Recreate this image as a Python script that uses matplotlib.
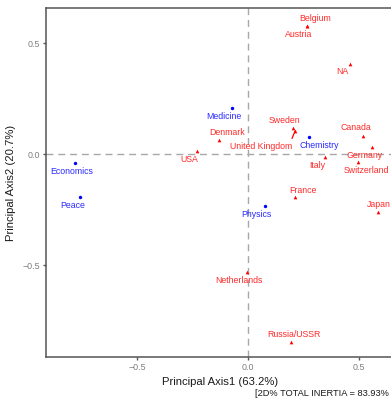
import numpy as np
import matplotlib
matplotlib.use("Agg")
import matplotlib.pyplot as plt

plt.rcParams['font.family'] = ['Liberation Sans', 'DejaVu Sans']

# column points (fields)
fields = ['Economics', 'Peace', 'Medicine', 'Chemistry', 'Physics']
field_x = [-0.78, -0.757, -0.072, 0.273, 0.075]
field_y = [-0.042, -0.192, 0.207, 0.078, -0.233]

# row points (countries)
countries = ['USA', 'Denmark', 'Belgium', 'Austria', 'NA', 'Sweden', 'United Kingdom',
             'Canada', 'Germany', 'Switzerland', 'Italy', 'France', 'Japan',
             'Netherlands', 'Russia/USSR']
country_x = [-0.228, -0.132, 0.264, 0.264, 0.459, 0.201, 0.212,
             0.52, 0.56, 0.494, 0.347, 0.212, 0.587, -0.006, 0.192]
country_y = [0.014, 0.063, 0.577, 0.577, 0.408, 0.116, 0.104,
             0.082, 0.033, -0.035, -0.015, -0.192, -0.263, -0.53, -0.848]

axis1_pct = 63.2
axis2_pct = 20.7
total_inertia = 83.93

# label offsets in pixels (dx right, dy down)
field_off = [(-3, 8.5), (-7.5, 9), (-8, 8.7), (11, 9), (-8, 8.3)]
country_off = [(-8, 9), (8, -7.3), (8.5, -7.7), (-8, 8.3), (-8, 8.4), (-8.4, -7.6),
               (-34, 16), (-8, -8), (-7.3, 8.3), (8.5, 9), (-8, 8.4), (7.7, -6.7),
               (0, -7.5), (-8, 8.3), (3, -8)]

W, H = 391, 401
fig = plt.figure(figsize=(W / 100, H / 100), dpi=100)
ax = fig.add_axes([46 / W, 1 - 357 / H, 1 - 46 / W, (357 - 8) / H])

ax.set_xlim(-0.91, 0.644)
ax.set_ylim(-0.914, 0.658)

ax.axhline(0, color='#A8A8A8', lw=1.0, ls=(0, (5, 3.5)), zorder=1)
ax.axvline(0, color='#A8A8A8', lw=1.0, ls=(0, (5, 3.5)), zorder=1)

red = '#FF0000'
blue = '#0000FF'
ax.scatter(country_x, country_y, marker='^', s=7, color=red, lw=0, zorder=3)
ax.scatter(field_x, field_y, marker='o', s=6, color=blue, lw=0, zorder=3)

pt = 0.72
for name, x, y, (dx, dy) in zip(countries, country_x, country_y, country_off):
    if name == 'United Kingdom':
        ax.annotate(name, (x, y), xytext=(dx * pt, -dy * pt), textcoords='offset points',
                    ha='center', va='center', fontsize=6.3, color='#FF2A2A',
                    arrowprops=dict(arrowstyle='-', color=red, lw=0.9, relpos=(0.97, 1.0),
                                    shrinkA=1, shrinkB=0))
    else:
        ax.annotate(name, (x, y), xytext=(dx * pt, -dy * pt), textcoords='offset points',
                    ha='center', va='center', fontsize=6.3, color='#FF2A2A')
for name, x, y, (dx, dy) in zip(fields, field_x, field_y, field_off):
    ax.annotate(name, (x, y), xytext=(dx * pt, -dy * pt), textcoords='offset points',
                ha='center', va='center', fontsize=6.3, color='#2A2AFF')

ax.set_xticks([-0.5, 0.0, 0.5])
ax.set_yticks([-0.5, 0.0, 0.5])
ax.tick_params(colors='#555555', labelcolor='#7F7F7F', labelsize=6.4,
               length=2.5, width=1.0, pad=2)

for s in ['left', 'bottom', 'top']:
    ax.spines[s].set_color('#555555')
    ax.spines[s].set_linewidth(1.1)
ax.spines['right'].set_visible(False)

ax.set_xlabel(f'Principal Axis1 ({axis1_pct}%)', fontsize=8.1, color='#1A1A1A', labelpad=3)
ax.set_ylabel(f'Principal Axis2 ({axis2_pct}%)', fontsize=8.1, color='#1A1A1A', labelpad=3)
ax.xaxis.set_label_coords((220 - 46) / (W - 46), -0.058)
ax.yaxis.set_label_coords(-0.088, 0.5)

fig.text(389 / W, 1 - 394 / H, f'[2D% TOTAL INERTIA = {total_inertia}%',
         ha='right', va='center', fontsize=6.7, color='#1A1A1A')

fig.savefig('out.png', dpi=100)
